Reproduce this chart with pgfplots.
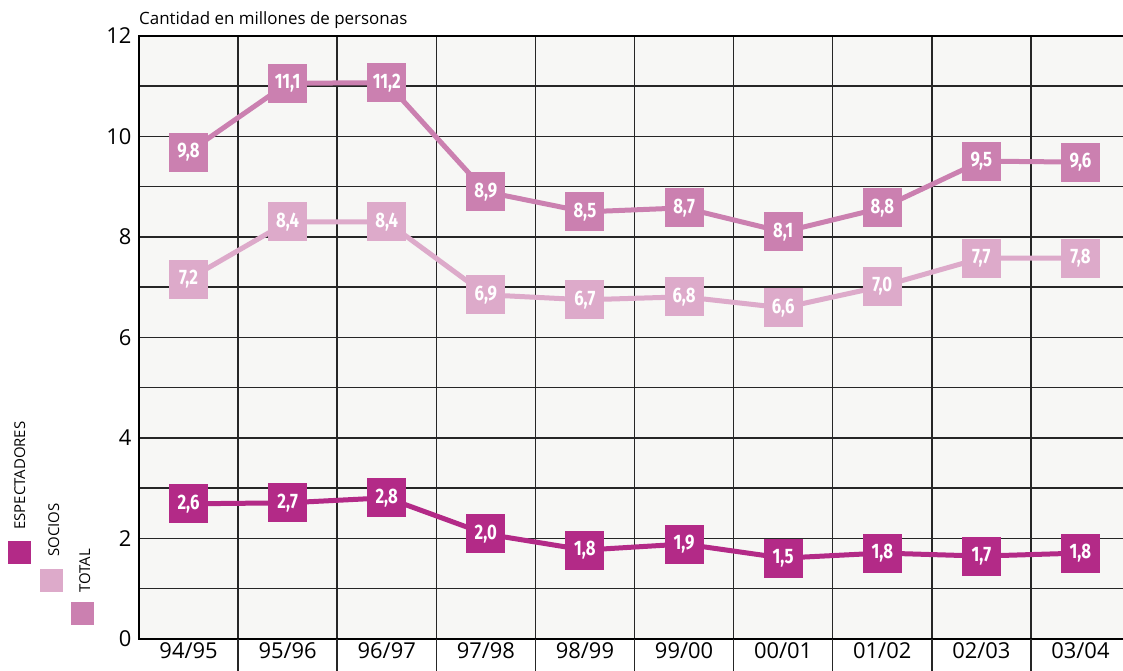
\documentclass[border=0pt]{standalone}
\usepackage{fontspec}
\setmainfont{Open Sans}
\newfontfamily\labfont{Fira Sans}[FakeStretch=0.8]
\usepackage{pgfplots}
\pgfplotsset{compat=1.18}
\definecolor{ctotal}{RGB}{203,128,176}
\definecolor{csocios}{RGB}{221,170,202}
\definecolor{cesp}{RGB}{179,42,135}
\definecolor{bgcol}{RGB}{247,247,245}

\begin{document}
\begin{tikzpicture}
\path[use as bounding box] (0,0) rectangle (1123bp,671bp);
\begin{axis}[
  at={(139bp,32bp)}, anchor=south west,
  scale only axis, width=991bp, height=603bp,
  xmin=-0.5, xmax=9.5, ymin=0, ymax=12,
  xtick={0,...,9},
  xticklabels={94/95,95/96,96/97,97/98,98/99,99/00,00/01,01/02,02/03,03/04},
  minor xtick={0.5,1.5,...,8.5},
  ytick={0,2,...,12},
  minor ytick={1,3,...,11},
  xminorgrids, ymajorgrids, yminorgrids,
  grid style={black!85, line width=1.5bp},
  minor grid style={black!85, line width=1.5bp},
  major tick length=0pt, minor tick length=0pt,
  axis line style={black, line width=1.6bp},
  axis background/.style={fill=bgcol},
  tick label style={font=\fontsize{22}{24}\selectfont},
  /pgf/number format/assume math mode=true,
  yticklabel style={xshift=-4bp},
  clip=false,
  point meta=explicit symbolic,
  nodes near coords,
  every node near coord/.append style={anchor=center, text=white, inner sep=0pt,
    font=\labfont\bfseries\fontsize{21}{21}\selectfont},
  mark size=17bp,
]
\pgfplotsinvokeforeach{0.5,1.5,2.5,3.5,4.5,5.5,6.5,7.5,8.5}{
  \draw[black!85, line width=1.5bp] (axis cs:#1,0) -- ++(0pt,-34bp);
}
% TOTAL
\addplot[ctotal, line width=5bp, mark=square*, mark options={draw=none, fill=ctotal}] coordinates {
  (0,9.69)[9,8] (1,11.06)[11,1] (2,11.07)[11,2] (3,8.90)[8,9] (4,8.50)[8,5]
  (5,8.58)[8,7] (6,8.10)[8,1] (7,8.58)[8,8] (8,9.51)[9,5] (9,9.49)[9,6]};
% SOCIOS
\addplot[csocios, line width=5bp, mark=square*, mark options={draw=none, fill=csocios}] coordinates {
  (0,7.16)[7,2] (1,8.30)[8,4] (2,8.30)[8,4] (3,6.85)[6,9] (4,6.75)[6,7]
  (5,6.81)[6,8] (6,6.59)[6,6] (7,7.02)[7,0] (8,7.58)[7,7] (9,7.58)[7,8]};
% ESPECTADORES
\addplot[cesp, line width=5bp, mark=square*, mark options={draw=none, fill=cesp}] coordinates {
  (0,2.69)[2,6] (1,2.71)[2,7] (2,2.81)[2,8] (3,2.09)[2,0] (4,1.77)[1,8]
  (5,1.89)[1,9] (6,1.61)[1,5] (7,1.71)[1,8] (8,1.65)[1,7] (9,1.71)[1,8]};
\end{axis}
% title
\node[anchor=base west, inner sep=0pt, font=\fontsize{17}{19}\selectfont] at (139bp,646bp) {Cantidad en millones de personas};
% legend
\fill[cesp] (8bp,107bp) rectangle (31bp,130bp);
\fill[csocios] (40bp,79bp) rectangle (63bp,102bp);
\fill[ctotal] (71bp,46bp) rectangle (94bp,69bp);
\node[rotate=90, anchor=base west, inner sep=0pt, font=\fontsize{15}{17}\selectfont] at (25bp,141bp) {ESPECTADORES};
\node[rotate=90, anchor=base west, inner sep=0pt, font=\fontsize{15}{17}\selectfont] at (59bp,114bp) {SOCIOS};
\node[rotate=90, anchor=base west, inner sep=0pt, font=\fontsize{15}{17}\selectfont] at (90bp,78bp) {TOTAL};
\end{tikzpicture}
\end{document}
